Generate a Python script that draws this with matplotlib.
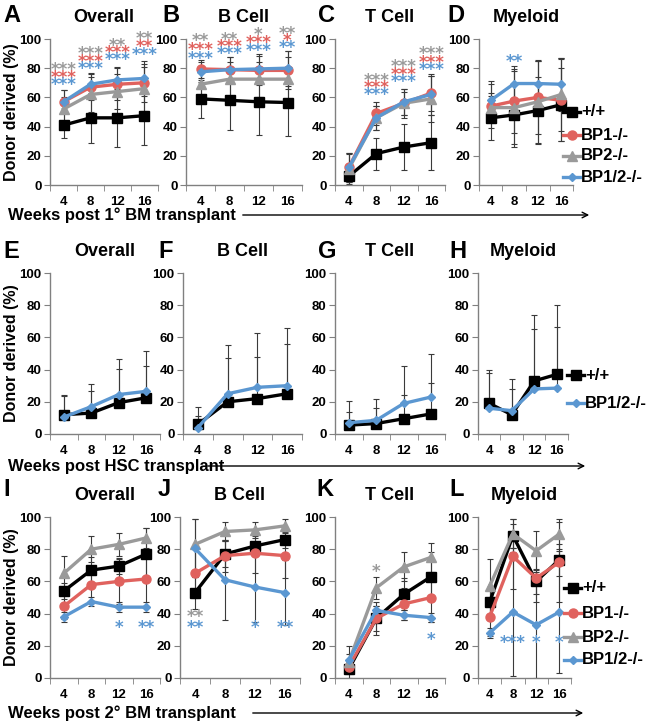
import numpy as np
import matplotlib
matplotlib.use("Agg")
import matplotlib.pyplot as plt
from matplotlib.lines import Line2D
from matplotlib.patches import FancyArrowPatch

plt.rcParams['font.family'] = ['Liberation Sans', 'DejaVu Sans']
plt.rcParams['font.weight'] = 'bold'

# weeks after transplant (categories)
weeks = ['4', '8', '12', '16']

# ---- 1st BM transplant (A-D): mean and error ----
A_wt = [41, 46, 46, 47.5];      A_wt_err = [9, 17, 20, 20]
A_bp1 = [57, 67, 69, 70];       A_bp1_err = [8, 9, 11, 13]
A_bp2 = [52, 62, 64, 66];       A_bp2_err = [8, 12, 12, 15]
A_dko = [57, 69, 72, 73];       A_dko_err = [8, 8, 9, 12]

B_wt = [59, 58, 57, 56.5];      B_wt_err = [13, 20, 23, 23]
B_bp1 = [79.5, 79, 78.5, 78.5]; B_bp1_err = [6, 9, 10, 13]
B_bp2 = [69, 72.5, 72.5, 72.5]; B_bp2_err = [10, 12, 12, 15]
B_dko = [77.5, 79, 79.5, 80];   B_dko_err = [7, 9, 10, 12]

C_wt = [6, 21.5, 26, 29];       C_wt_err = [6, 11, 16, 19]
C_bp1 = [12, 49, 56, 63];       C_bp1_err = [10, 8, 8, 12]
C_bp2 = [11, 46, 56, 59];       C_bp2_err = [10, 8, 10, 16]
C_dko = [12, 46, 57, 62];       C_dko_err = [10, 8, 9, 14]

D_wt = [46, 48, 51, 55];        D_wt_err = [15, 22, 23, 25]
D_bp1 = [54, 57.5, 60, 58];     D_bp1_err = [15, 22, 25, 28]
D_bp2 = [53, 53, 57, 62];       D_bp2_err = [10, 25, 28, 25]
D_dko = [58, 69.5, 69.5, 69];   D_dko_err = [13, 12, 16, 18]

# ---- HSC transplant (E-H): upper error only ----
E_wt = [12, 13, 19.5, 22.5];    E_wt_err = [11.5, 14, 21, 20]
E_dko = [10.5, 17, 24.5, 26.5]; E_dko_err = [14, 14, 22, 25]
F_wt = [6, 20, 22, 25];         F_wt_err = [5, 27, 26, 31]
F_dko = [4, 25, 29, 30];        F_dko_err = [13, 30, 34, 36]
G_wt = [5.5, 6.5, 9.5, 12.5];   G_wt_err = [8, 9.5, 14.5, 19]
G_dko = [7, 8.5, 19, 23];       G_dko_err = [13.5, 13.5, 23, 27]
H_wt = [19, 12, 33, 37];        H_wt_err = [21, 22, 41, 43]
H_dko = [16, 14.5, 28, 28.5];   H_dko_err = [22, 13.5, 37, 38]

# ---- 2nd BM transplant (I-L) ----
I_wt = [54, 67, 69.5, 77];      I_wt_err = [5, 8, 5, 16]
I_bp1 = [44.5, 58, 60, 61.5];   I_bp1_err = [8, 10, 14, 17]
I_bp2 = [65, 80, 83, 87];       I_bp2_err = [11, 8, 7, 6]
I_dko = [38, 47.5, 44, 44];     I_dko_err = [3, 3, 3, 3]

J_wt = [53, 77, 82, 86];        J_wt_err = [10, 8, 6, 5]
J_bp1 = [65, 76, 77.5, 76];     J_bp1_err = [15, 10, 12, 14]
J_bp2 = [83, 91, 92, 94.5];     J_bp2_err = [16, 6, 5, 4]
J_dko = [80.5, 61, 56.5, 53];   J_dko_err = [18, 25, 22, 20]

K_wt = [5.5, 37, 52, 63];       K_wt_err = [3, 10, 10, 15]
K_bp1 = [7, 37, 46, 50];        K_bp1_err = [3, 8, 10, 15]
K_bp2 = [10, 56, 69, 75];       K_bp2_err = [10, 7, 9, 9]
K_dko = [11, 42, 39, 37.5];     K_dko_err = [4, 3, 3, 3]

L_wt = [47, 88.5, 60, 73.5];    L_wt_err = [8, 10, 8, 10]
L_bp1 = [38, 75.5, 62, 72];     L_bp1_err = [12, 20, 15, 25]
L_bp2 = [57, 89.5, 79, 89.5];   L_bp2_err = [17, 9, 12, 9.5]
L_dko = [28, 41, 33, 41];       L_dko_err = [3, 40, 33, 38]

# significance marks: (week index, height, text, genotype)
A_stars = [(0, 81, '***', 'bp2'), (0, 76, '***', 'bp1'), (0, 71, '***', 'dko'),
           (1, 92, '***', 'bp2'), (1, 87, '***', 'bp1'), (1, 82, '***', 'dko'),
           (2, 98, '**', 'bp2'), (2, 93, '***', 'bp1'), (2, 88, '***', 'dko'),
           (3, 102.5, '**', 'bp2'), (3, 97, '**', 'bp1'), (3, 91.5, '***', 'dko')]
B_stars = [(0, 101, '**', 'bp2'), (0, 95, '***', 'bp1'), (0, 89, '***', 'dko'),
           (1, 102, '**', 'bp2'), (1, 97, '***', 'bp1'), (1, 92, '***', 'dko'),
           (2, 105, '*', 'bp2'), (2, 100, '***', 'bp1'), (2, 94, '***', 'dko'),
           (3, 106, '**', 'bp2'), (3, 101, '*', 'bp1'), (3, 96, '**', 'dko')]
C_stars = [(1, 74, '***', 'bp2'), (1, 69, '***', 'bp1'), (1, 64, '***', 'dko'),
           (2, 83.5, '***', 'bp2'), (2, 78, '***', 'bp1'), (2, 73, '***', 'dko'),
           (3, 92, '***', 'bp2'), (3, 86, '***', 'bp1'), (3, 81.5, '***', 'dko')]
D_stars = [(1, 86.5, '**', 'dko')]
I_stars = [(2, 33, '*', 'dko'), (3, 33, '**', 'dko')]
J_stars = [(0, 40, '**', 'bp2'), (0, 33, '**', 'dko'), (2, 33, '*', 'dko'), (3, 33, '**', 'dko')]
K_stars = [(1, 68, '*', 'bp2'), (3, 26, '*', 'dko')]
L_stars = [(1, 24, '***', 'dko'), (2, 24, '*', 'dko'), (3, 24, '*', 'dko')]

labels = {'wt': '+/+', 'bp1': 'BP1-/-', 'bp2': 'BP2-/-', 'dko': 'BP1/2-/-'}
colors = {'wt': '#000000', 'bp1': '#e0625e', 'bp2': '#9a9a9a', 'dko': '#5b97d1'}
markers = {'wt': 's', 'bp1': 'o', 'bp2': '^', 'dko': 'D'}
msize = {'wt': 6.5, 'bp1': 6.5, 'bp2': 6.5, 'dko': 4.5}

W, H = 648, 723
fig = plt.figure(figsize=(W / 100, H / 100), dpi=100)


def px_axes(left, right, top, bottom):
    return fig.add_axes([left / W, 1 - bottom / H, (right - left) / W, (bottom - top) / H])


def panel(box, title, series, stars=(), upper_only=False, ylabel=False):
    ax = px_axes(*box)
    x = np.arange(len(weeks))
    order = ['wt', 'bp1', 'bp2', 'dko']
    for key in order:
        if key not in series:
            continue
        vals, err = series[key]
        vals = np.array(vals, float)
        err = np.array(err, float)
        yerr = [np.zeros_like(err), err] if upper_only else err
        ax.errorbar(x, vals, yerr=yerr, fmt='none', ecolor='#3a3a3a', elinewidth=0.8,
                    capsize=2.2, capthick=0.8, zorder=1)
    for key in order:
        if key not in series:
            continue
        vals, _ = series[key]
        ax.plot(x, vals, color=colors[key], lw=2.4, marker=markers[key],
                ms=msize[key], mec=colors[key], zorder=3, clip_on=False)
    # asterisks: glyph centre sits ~0.53 em above the baseline
    for i, yv, txt, key in stars:
        ax.annotate(txt, (i, yv), xytext=(0, -6.2), textcoords='offset points',
                    color=colors[key], ha='center', va='baseline', fontsize=12,
                    family='DejaVu Sans', fontweight='bold', annotation_clip=False, zorder=4)
    ax.set_xlim(-0.5, 3.5)
    ax.set_ylim(0, 100)
    ax.set_yticks([0, 20, 40, 60, 80, 100])
    ax.set_xticks(x)
    ax.set_xticklabels(weeks)
    ax.set_xticks([0.5, 1.5, 2.5, 3.5, -0.5], minor=True)
    ax.tick_params(axis='x', which='major', length=0, pad=8, labelsize=9.5)
    ax.tick_params(axis='x', which='minor', length=4, color='#808080')
    ax.tick_params(axis='y', length=4, color='#808080', labelsize=9.5, pad=2)
    for lab in ax.get_xticklabels() + ax.get_yticklabels():
        lab.set_fontweight('bold')
    for s in ['top', 'right']:
        ax.spines[s].set_visible(False)
    for s in ['left', 'bottom']:
        ax.spines[s].set_color('#808080')
        ax.spines[s].set_linewidth(1)
    ax.patch.set_alpha(0)
    l, r, t, b = box
    fig.text((l + r) / 2 / W, 1 - (t - 22) / H, title, ha='center', va='center',
             fontsize=13, fontweight='bold')
    if ylabel:
        fig.text(12 / W, 1 - (t + b) / 2 / H, 'Donor derived (%)', rotation=90,
                 ha='center', va='center', fontsize=11.5, fontweight='bold')
    return ax


def letter(x, y, s):
    fig.text(x / W, 1 - y / H, s, ha='left', va='center', fontsize=17, fontweight='bold')


def legend(keys, x, ys):
    for k, y in zip(keys, ys):
        fy = 1 - y / H
        fig.add_artist(Line2D([x / W, (x + 8.5) / W, (x + 17) / W], [fy, fy, fy],
                              transform=fig.transFigure, color=colors[k], lw=2.4,
                              marker=markers[k], ms=msize[k], mec=colors[k], markevery=[1]))
        fig.text((x + 18) / W, fy, labels[k], ha='left', va='center', fontsize=12,
                 fontweight='bold')


def xlabel(text, x, y, ax0, ax1):
    fig.text(x / W, 1 - y / H, text, ha='left', va='center', fontsize=12, fontweight='bold')
    fig.add_artist(FancyArrowPatch((ax0 / W, 1 - y / H), (ax1 / W, 1 - y / H),
                                   transform=fig.transFigure, arrowstyle='->',
                                   mutation_scale=10, lw=1, color='black'))


# row 1: 1st BM transplant
top1, bot1 = 39, 185
panel((50, 158, top1, bot1), 'Overall',
      {'wt': (A_wt, A_wt_err), 'bp1': (A_bp1, A_bp1_err), 'bp2': (A_bp2, A_bp2_err),
       'dko': (A_dko, A_dko_err)}, A_stars, ylabel=True)
panel((186, 302, top1, bot1), 'B Cell',
      {'wt': (B_wt, B_wt_err), 'bp1': (B_bp1, B_bp1_err), 'bp2': (B_bp2, B_bp2_err),
       'dko': (B_dko, B_dko_err)}, B_stars)
panel((335, 445, top1, bot1), 'T Cell',
      {'wt': (C_wt, C_wt_err), 'bp1': (C_bp1, C_bp1_err), 'bp2': (C_bp2, C_bp2_err),
       'dko': (C_dko, C_dko_err)}, C_stars)
panel((479, 573, top1, bot1), 'Myeloid',
      {'wt': (D_wt, D_wt_err), 'bp1': (D_bp1, D_bp1_err), 'bp2': (D_bp2, D_bp2_err),
       'dko': (D_dko, D_dko_err)}, D_stars)
for lx, s in [(3, 'A'), (162, 'B'), (318, 'C'), (447, 'D')]:
    letter(lx, 15, s)
legend(['wt', 'bp1', 'bp2', 'dko'], 563, [112, 135, 156, 177])
xlabel('Weeks post 1° BM transplant', 8, 215, 240, 592)

# row 2: HSC transplant
top2, bot2 = 273, 434
panel((50, 160, top2, bot2), 'Overall',
      {'wt': (E_wt, E_wt_err), 'dko': (E_dko, E_dko_err)}, upper_only=True, ylabel=True)
panel((183, 302, top2, bot2), 'B Cell',
      {'wt': (F_wt, F_wt_err), 'dko': (F_dko, F_dko_err)}, upper_only=True)
panel((335, 445, top2, bot2), 'T Cell',
      {'wt': (G_wt, G_wt_err), 'dko': (G_dko, G_dko_err)}, upper_only=True)
panel((478, 568, top2, bot2), 'Myeloid',
      {'wt': (H_wt, H_wt_err), 'dko': (H_dko, H_dko_err)}, upper_only=True)
for lx, s in [(3, 'E'), (158, 'F'), (318, 'G'), (449, 'H')]:
    letter(lx, 251, s)
legend(['wt', 'dko'], 567, [375, 403])
xlabel('Weeks post HSC transplant', 8, 466, 205, 588)

# row 3: 2nd BM transplant
top3, bot3 = 517, 678
panel((50, 160, top3, bot3), 'Overall',
      {'wt': (I_wt, I_wt_err), 'bp1': (I_bp1, I_bp1_err), 'bp2': (I_bp2, I_bp2_err),
       'dko': (I_dko, I_dko_err)}, I_stars, ylabel=True)
panel((180, 300, top3, bot3), 'B Cell',
      {'wt': (J_wt, J_wt_err), 'bp1': (J_bp1, J_bp1_err), 'bp2': (J_bp2, J_bp2_err),
       'dko': (J_dko, J_dko_err)}, J_stars)
panel((335, 445, top3, bot3), 'T Cell',
      {'wt': (K_wt, K_wt_err), 'bp1': (K_bp1, K_bp1_err), 'bp2': (K_bp2, K_bp2_err),
       'dko': (K_dko, K_dko_err)}, K_stars)
panel((478, 571, top3, bot3), 'Myeloid',
      {'wt': (L_wt, L_wt_err), 'bp1': (L_bp1, L_bp1_err), 'bp2': (L_bp2, L_bp2_err),
       'dko': (L_dko, L_dko_err)}, L_stars)
for lx, s in [(3, 'I'), (158, 'J'), (316, 'K'), (449, 'L')]:
    letter(lx, 490, s)
legend(['wt', 'bp1', 'bp2', 'dko'], 564, [588, 613, 637, 660])
xlabel('Weeks post 2° BM transplant', 8, 713, 250, 586)

fig.savefig('out.png', dpi=100)
